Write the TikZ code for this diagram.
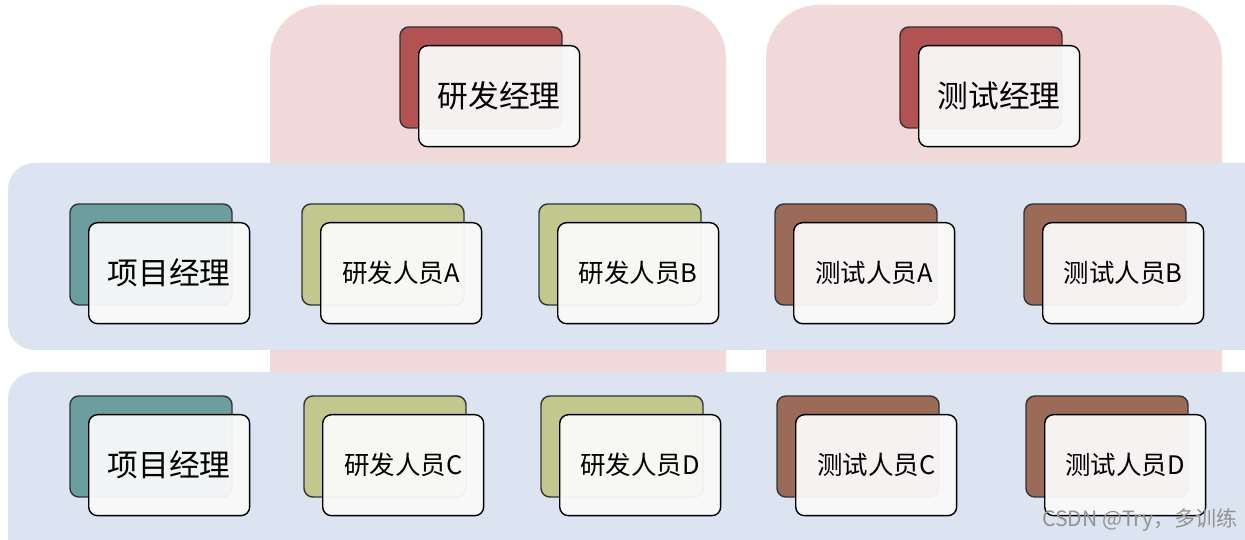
\documentclass[tikz,border=0pt]{standalone}
\usepackage{fontspec}
\setmainfont{Noto Sans CJK SC}
\begin{document}
\begin{tikzpicture}[x=0.02cm,y=-0.02cm,
  backc/.style={draw=black!80,line width=0.8pt,rounded corners=5pt,fill=#1},
  frontc/.style={draw=black,line width=0.8pt,rounded corners=5pt,fill=white!96!gray,fill opacity=0.95,text opacity=1,minimum width=3.22cm,minimum height=2.02cm,inner sep=0pt},
  big/.style={font=\fontsize{17.5}{20}\selectfont},
  small/.style={font=\fontsize{14.5}{17}\selectfont}]
\useasboundingbox (0,0) rectangle (1245,540);
\fill[white] (0,0) rectangle (1245,540);
\definecolor{pinkc}{HTML}{F2D9D9}
\definecolor{bluec}{HTML}{DCE4F1}
\definecolor{tealc}{HTML}{6C9E9F}
\definecolor{olivec}{HTML}{C2C78E}
\definecolor{brownc}{HTML}{9C6B58}
\definecolor{redc}{HTML}{B25252}
\fill[pinkc,rounded corners=30pt] (270,560) -- (270,5) -- (726,5) -- (726,560) -- cycle;
\fill[pinkc,rounded corners=30pt] (766,560) -- (766,5) -- (1222,5) -- (1222,560) -- cycle;
\fill[bluec,rounded corners=15pt] (8,163) rectangle (1275,350);
\fill[bluec,rounded corners=15pt] (8,372) rectangle (1275,580);
\fill[pinkc] (270,350) rectangle (726,372);
\fill[pinkc] (766,350) rectangle (1222,372);
\foreach \n/\bx/\by/\c/\t/\s in {
  m1/400/27/redc/研发经理/big, m2/900/27/redc/测试经理/big,
  p1/70/204/tealc/项目经理/big, a1/302/204/olivec/研发人员A/small, b1/539/204/olivec/研发人员B/small,
  c1/775/204/brownc/测试人员A/small, d1/1024/204/brownc/测试人员B/small,
  p2/70/396/tealc/项目经理/big, a2/304/396/olivec/研发人员C/small, b2/541/396/olivec/研发人员D/small,
  c2/777/396/brownc/测试人员C/small, d2/1026/396/brownc/测试人员D/small}{
  \draw[backc=\c] (\bx,\by) rectangle ++(162,101);
  \node[frontc,\s,anchor=north west] (\n) at (\bx+18,\by+18) {\t};
}
\node[text=gray!85,font=\fontsize{12}{14}\selectfont] (wm) at (1140,520) {CSDN @Try，多训练};
\end{tikzpicture}
\end{document}
